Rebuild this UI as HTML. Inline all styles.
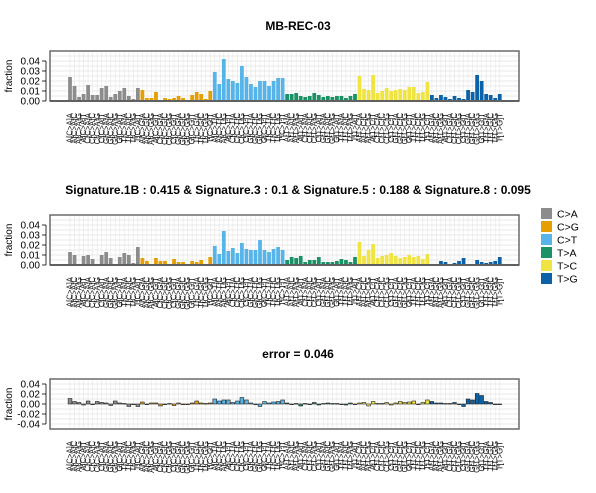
<!DOCTYPE html>
<html><head><meta charset="utf-8"><style>
body{margin:0;background:#fff;}
svg{display:block;font-family:"Liberation Sans",Arial,sans-serif;}
</style></head><body>
<svg id="chart" width="596" height="493" viewBox="0 0 596 493">
<text x="298" y="30" text-anchor="middle" font-size="12" font-weight="bold">MB-REC-03</text>
<text x="298" y="194" text-anchor="middle" font-size="12" font-weight="bold">Signature.1B : 0.415 &amp; Signature.3 : 0.1 &amp; Signature.5 : 0.188 &amp; Signature.8 : 0.095</text>
<text x="298" y="358" text-anchor="middle" font-size="12" font-weight="bold">error = 0.046</text>
<g id="legend"></g>
</svg>
<script>
const mutTypes = ["C>A","C>G","C>T","T>A","T>C","T>G"];
const bases = ["A","C","G","T"];
const original = [
0.024,0.015,0.004,0.007,0.016,0.006,0.006,0.013,0.015,0.004,0.007,0.010,0.013,0.005,0.002,0.013,
0.011,0.003,0.003,0.009,0.000,0.003,0.002,0.003,0.005,0.003,0.000,0.006,0.009,0.007,0.002,0.010,
0.029,0.017,0.042,0.022,0.020,0.018,0.035,0.024,0.017,0.014,0.020,0.020,0.015,0.020,0.023,0.023,
0.007,0.007,0.008,0.005,0.004,0.005,0.008,0.006,0.004,0.005,0.004,0.005,0.005,0.003,0.005,0.007,
0.025,0.012,0.011,0.026,0.008,0.010,0.013,0.010,0.011,0.012,0.011,0.014,0.014,0.008,0.009,0.019,
0.006,0.003,0.006,0.004,0.002,0.005,0.003,0.002,0.011,0.009,0.026,0.020,0.007,0.006,0.003,0.007];
const reconstructed = [
0.013,0.010,0.001,0.009,0.010,0.006,0.001,0.010,0.013,0.007,0.001,0.008,0.012,0.010,0.002,0.018,
0.007,0.004,0.001,0.007,0.004,0.004,0.001,0.006,0.003,0.003,0.000,0.004,0.003,0.005,0.001,0.008,
0.019,0.011,0.034,0.014,0.017,0.012,0.022,0.016,0.015,0.015,0.025,0.015,0.013,0.016,0.018,0.015,
0.005,0.008,0.007,0.009,0.003,0.005,0.005,0.008,0.003,0.003,0.003,0.004,0.006,0.005,0.003,0.008,
0.023,0.009,0.015,0.021,0.007,0.009,0.010,0.012,0.009,0.007,0.008,0.010,0.008,0.009,0.006,0.011,
0.001,0.001,0.004,0.003,0.001,0.002,0.004,0.007,0.001,0.001,0.005,0.003,0.002,0.003,0.004,0.008];
const yTicksPos = [0.00,0.01,0.02,0.03,0.04];
const yTicksErr = [-0.04,-0.02,0.00,0.02,0.04];
const colors = ["#8c8c8c","#e69f00","#56b4e9","#1a9266","#f0e442","#0b62a8"];

const NS="http://www.w3.org/2000/svg";
const svg=document.getElementById('chart');
function mk(tag,attrs,parent){const e=document.createElementNS(NS,tag);for(const k in attrs)e.setAttribute(k,attrs[k]);(parent||svg).appendChild(e);return e;}

const labels=[];
for(let m=0;m<6;m++)for(let a=0;a<4;a++)for(let b=0;b<4;b++)labels.push(bases[a]+"["+mutTypes[m]+"]"+bases[b]);

const X0=50,X1=519,N=96;
const unit=(X1-X0)/(N*1.2*1.08);
function xStart(i){return X0+(0.04*N*1.2+0.2+i*1.2)*unit;}
function xCenter(i){return xStart(i)+unit/2;}

function panel(name,top,bottom,ymin,ymax,ticks,vals,isErr){
  const g=mk('g',{});
  
  
  const ys=v=>bottom-(v-ymin)/(ymax-ymin)*(bottom-top);
  for(let i=0;i<N;i++){const l=mk('line',{x1:xCenter(i),x2:xCenter(i),y1:top,y2:bottom,stroke:'#ececec','stroke-width':0.8},g);
    }
  const step=isErr?0.01:0.005;
  for(let v=ymin;v<=ymax+1e-9;v+=step){const l=mk('line',{x1:X0,x2:X1,y1:ys(v),y2:ys(v),stroke:'#e2e2e2','stroke-width':0.8},g);
    }
  for(let i=0;i<N;i++){
    const v=vals[i];const y0=ys(0),y1=ys(v);
    const r=mk('rect',{x:xStart(i),y:Math.min(y0,y1),width:unit,height:Math.max(Math.abs(y1-y0),isErr?0.6:0),fill:colors[Math.floor(i/16)]},g);
    if(isErr){r.setAttribute('stroke','#222');r.setAttribute('stroke-width','0.6');}
    
    
  }
  if(!isErr){const z=mk('line',{x1:X0,x2:X1,y1:ys(0),y2:ys(0),stroke:'#777','stroke-width':2},g);
    }
  const fr=mk('rect',{x:X0,y:top,width:X1-X0,height:bottom-top,fill:'none',stroke:'#555','stroke-width':1.3},g);
  
  const ax=mk('line',{x1:X0-4,x2:X0-4,y1:ys(ticks[0]),y2:ys(ticks[ticks.length-1]),stroke:'#000','stroke-width':0.8},g);
  
  ticks.forEach(t=>{
    mk('line',{x1:X0-8,x2:X0-4,y1:ys(t),y2:ys(t),stroke:'#000','stroke-width':0.8},g);
    const tx=mk('text',{x:X0-10,y:ys(t)+3.5,'text-anchor':'end','font-size':10},g);
    tx.textContent=t.toFixed(2);
    
  });
  const yt=mk('text',{x:0,y:0,'text-anchor':'middle','font-size':10,transform:`translate(12,${(top+bottom)/2}) rotate(-90)`},g);
  yt.textContent='fraction';
  
  const ly=bottom+12;
  for(let i=0;i<N;i++){
    const tx=mk('text',{x:0,y:0,'text-anchor':'end','font-size':7.8,fill:'#111',transform:`translate(${xCenter(i)+2.6},${ly}) rotate(-90)`},g);
    tx.textContent=labels[i];
    
  }
}
const errorVals=original.map((v,i)=>v-reconstructed[i]);
panel('panel-original',51,101,0,0.05,yTicksPos,original,false);
panel('panel-reconstructed',215,265,0,0.05,yTicksPos,reconstructed,false);
panel('panel-error',379,429,-0.05,0.05,yTicksErr,errorVals,true);

const lg=document.getElementById('legend');
mutTypes.forEach((m,k)=>{
  const r=mk('rect',{x:541,y:208+k*13,width:11,height:11,fill:colors[k]},lg);
  
  const t=mk('text',{x:557,y:217.5+k*13,'font-size':10.5},lg);
  t.textContent=m;
  
});
</script>
</body></html>
